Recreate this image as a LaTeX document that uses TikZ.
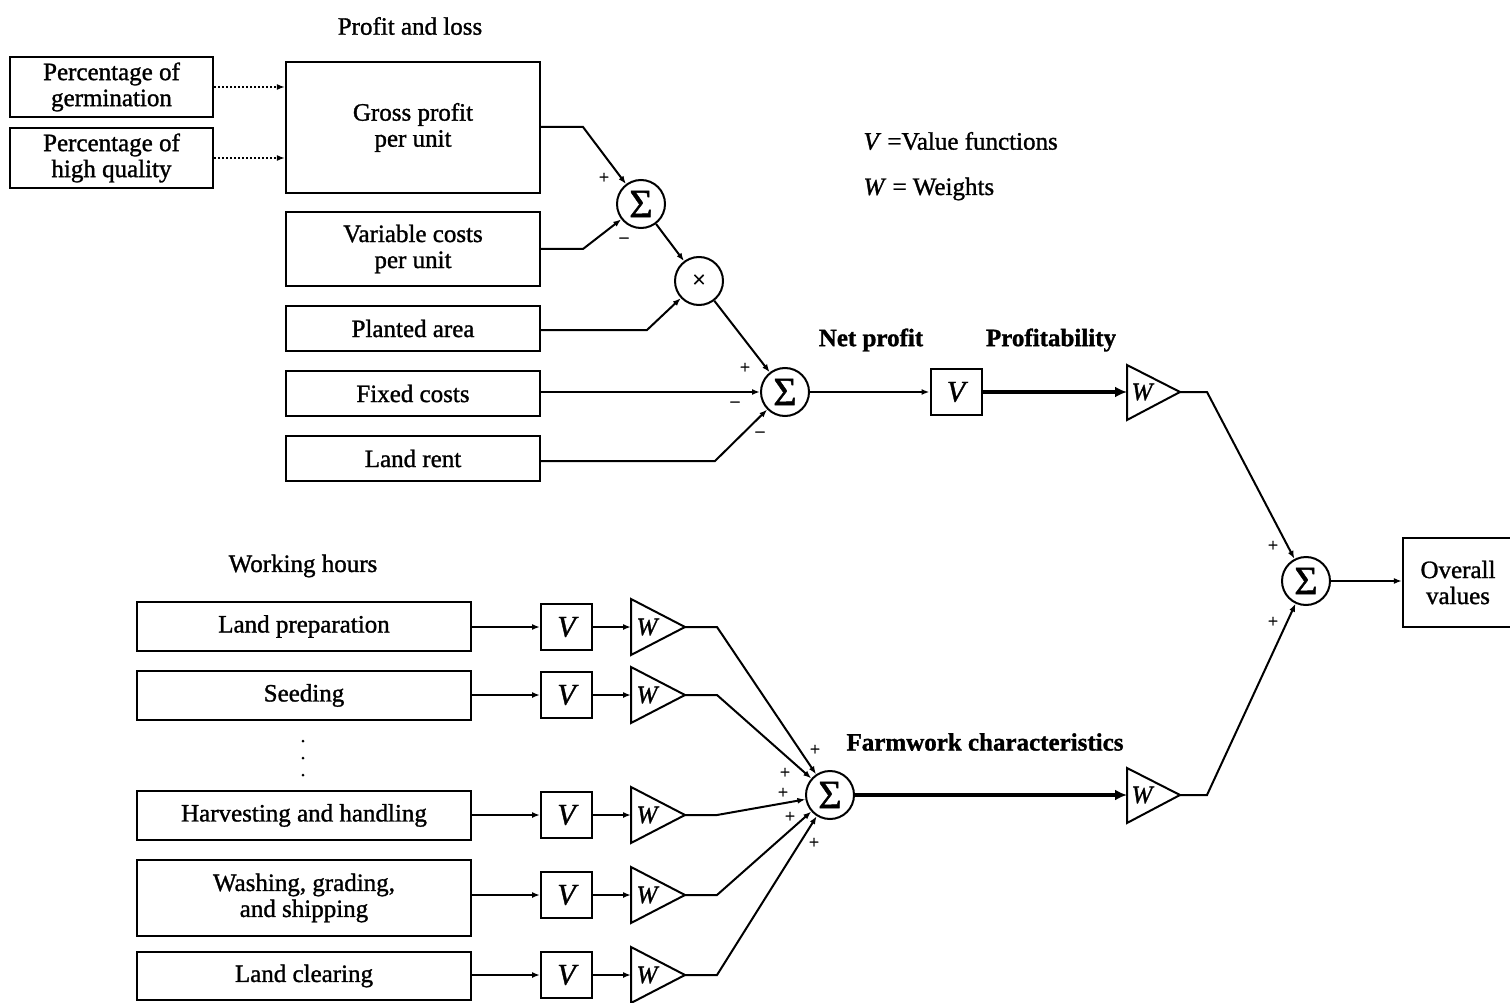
\documentclass[tikz,border=0pt]{standalone}
\usepackage{fontspec}
\setmainfont{Liberation Serif}[FakeBold=1.2]
\usetikzlibrary{arrows.meta,calc}
\begin{document}
\begin{tikzpicture}[x=1pt,y=-1pt,
  every node/.style={font=\fontsize{25}{26}\selectfont},
  box/.style={draw,line width=2.2pt,rectangle,inner sep=0pt,align=center},
  sumc/.style={draw,line width=2pt,circle,minimum size=48pt,inner sep=0pt,font=\fontsize{40}{40}\selectfont},
  vbox/.style={draw,line width=2pt,rectangle,minimum width=51pt,minimum height=46pt,inner sep=0pt,font=\fontsize{30}{30}\selectfont\itshape},
  ln/.style={line width=2pt},
  arr/.style={line width=2pt,-{Latex[length=8pt,width=6pt]}},
  thickarr/.style={line width=4.5pt,-{Latex[length=12pt,width=11pt]}},
  dotarr/.style={line width=2pt,dotted,-{Latex[length=8pt,width=6pt]}},
  sgn/.style={font=\fontsize{18}{18}\selectfont,inner sep=0pt},
  wl/.style={font=\fontsize{25}{25}\selectfont\itshape,inner sep=0pt},
  lbl/.style={font=\fontsize{25}{26}\selectfont},
  blbl/.style={font=\fontsize{25}{26}\selectfont\bfseries}
]
\useasboundingbox (0,0) rectangle (1510,1003);

% ---------- Profit and loss ----------
\node[lbl] (hpl) at (410,26) {Profit and loss};
\node[box,minimum width=203pt,minimum height=60pt] (pg) at (111.5,87) {Percentage of\\germination};
\node[box,minimum width=203pt,minimum height=60pt] (pq) at (111.5,158) {Percentage of\\high quality};
\node[box,minimum width=254pt,minimum height=131pt] (gp) at (413,127.5) {Gross profit\\per unit};
\node[box,minimum width=254pt,minimum height=74pt] (vc) at (413,249) {Variable costs\\per unit};
\node[box,minimum width=254pt,minimum height=45pt] (pa) at (413,328.5) {Planted area};
\node[box,minimum width=254pt,minimum height=45pt] (fc) at (413,393.5) {Fixed costs};
\node[box,minimum width=254pt,minimum height=45pt] (lr) at (413,458.5) {Land rent};

\draw[dotarr] (pg.east) -- (pg.east -| gp.west);
\draw[dotarr] (pq.east) -- (pq.east -| gp.west);

\node[sumc] (s1) at (641,204) {Σ};
\node[sumc,font=\fontsize{24}{24}\selectfont] (mx) at (699,281) {×};
\node[sumc] (s2) at (785,392) {Σ};

\coordinate (k1) at (583,127);
\coordinate (k2) at (583,249);
\coordinate (k3) at (647,330);
\coordinate (k4) at (715,461);
\draw[arr] (k1 -| gp.east) -- (k1) -- (s1);
\draw[arr] (k2 -| vc.east) -- (k2) -- (s1);
\draw[arr] (s1) -- (mx);
\draw[arr] (k3 -| pa.east) -- (k3) -- (mx);
\draw[arr] (mx) -- (s2);
\draw[arr] (fc.east |- s2) -- (s2);
\draw[arr] (k4 -| lr.east) -- (k4) -- (s2);

\node[sgn] (p1) at (604,178) {+};
\node[sgn] (m1) at (624,240) {--};
\node[sgn] (p2) at (745,368) {+};
\node[sgn] (m2) at (735,404) {--};
\node[sgn] (m3) at (760,434) {--};

\node[vbox] (vp) at (956,392) {V};
\draw[arr] (s2) -- (vp);
\node[blbl] (np) at (871,340) {Net profit};
\node[blbl] (prof) at (1051,340) {Profitability};

% W triangle (profitability)
\draw[ln] (1127,365) -- (1180,392) -- (1127,420) -- cycle;
\coordinate (wpin) at (1127,392);
\coordinate (wpout) at (1180,392);
\node[wl] (wpl) at (1142,392) {W};
\draw[thickarr] (vp) -- (wpin);

% legend
\node[lbl,anchor=west] (lg1) at (860,141) {\textit{V} =Value functions};
\node[lbl,anchor=west] (lg2) at (860,189) {\textit{W} = Weights};

% ---------- final sum ----------
\node[sumc] (sf) at (1306,581) {Σ};
\node[box,minimum width=110pt,minimum height=89pt] (ov) at (1458,582.5) {Overall\\values};
\draw[arr] (sf) -- (sf -| ov.west);
\coordinate (kf1) at (1207,392);
\draw[arr] (wpout) -- (kf1) -- (sf);
\node[sgn] (p3) at (1273,546) {+};
\node[sgn] (p4) at (1273,622) {+};

% ---------- Working hours ----------
\node[lbl] (hwh) at (303,566) {Working hours};
\node[box,minimum width=334pt,minimum height=49pt] (b1) at (304,626.5) {Land preparation};
\node[box,minimum width=334pt,minimum height=49pt] (b2) at (304,695.5) {Seeding};
\node[box,minimum width=334pt,minimum height=49pt] (b3) at (304,815.5) {Harvesting and handling};
\node[box,minimum width=334pt,minimum height=76pt] (b4) at (304,898) {Washing, grading,\\and shipping};
\node[box,minimum width=334pt,minimum height=48pt] (b5) at (304,976) {Land clearing};

\fill (303,741) circle (1.5pt);
\fill (303,758) circle (1.5pt);
\fill (303,775) circle (1.5pt);

\node[sumc] (sw) at (830,795) {Σ};

\foreach \i/\yy in {1/627,2/695,3/815,4/895,5/975}{
  \node[vbox] (v\i) at (566.5,\yy) {V};
  \draw[arr] (b\i.east |- v\i) -- (v\i);
  \draw[ln] (631,\yy-28) -- (685,\yy) -- (631,\yy+28) -- cycle;
  \coordinate (w\i in) at (631,\yy);
  \coordinate (w\i out) at (685,\yy);
  \node[wl] (w\i l) at (647,\yy) {W};
  \draw[arr] (v\i) -- (w\i in);
  \coordinate (kw\i) at (717,\yy);
  \draw[arr] (w\i out) -- (kw\i) -- (sw);
}

\node[sgn] (q1) at (815,750) {+};
\node[sgn] (q2) at (785,773) {+};
\node[sgn] (q3) at (783,793) {+};
\node[sgn] (q4) at (790,817) {+};
\node[sgn] (q5) at (814,843) {+};

\node[blbl] (fw) at (985,742) {Farmwork characteristics};

% W triangle (farmwork)
\draw[ln] (1127,768) -- (1180,795) -- (1127,823) -- cycle;
\coordinate (wfin) at (1127,795);
\coordinate (wfout) at (1180,795);
\node[wl] (wfl) at (1142,795) {W};
\draw[thickarr] (sw) -- (wfin);
\coordinate (kf2) at (1207,795);
\draw[arr] (wfout) -- (kf2) -- (sf);

\end{tikzpicture}
\end{document}
